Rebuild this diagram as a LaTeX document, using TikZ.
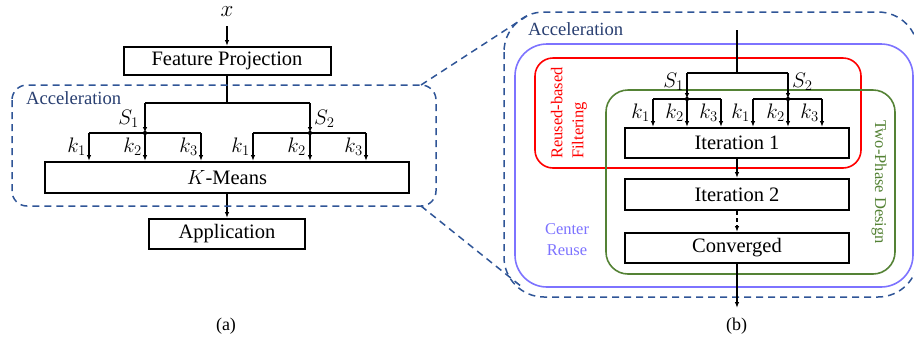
\RequirePackage{fix-cm}
\documentclass[tikz,border=0pt]{standalone}
\usepackage{fontspec}
\setmainfont{Liberation Serif}
\usetikzlibrary{arrows.meta}

\definecolor{accnavy}{RGB}{47,85,151}
\definecolor{acctext}{RGB}{40,62,112}
\definecolor{reuseviolet}{RGB}{125,115,255}
\definecolor{filterred}{RGB}{255,0,0}
\definecolor{phasegreen}{RGB}{84,130,53}

\newcommand{\bxfont}{\fontsize{20.5}{24}\selectfont}
\newcommand{\mfont}{\fontsize{21}{24}\selectfont}
\newcommand{\grpfont}{\fontsize{16.5}{21}\selectfont}
\newcommand{\accfont}{\fontsize{18.6}{22}\selectfont}

\tikzset{
  stagebox/.style={draw, line width=2pt, inner sep=0pt, minimum height=30pt, fill=white, font=\bxfont},
  wire/.style={line width=1.4pt},
  conn/.style={line width=1.4pt, -{Latex[length=6pt,width=4.5pt]}},
  mlbl/.style={inner sep=0pt, font=\mfont},
  accdash/.style={accnavy, line width=1.5pt, dash pattern=on 7pt off 5pt},
  acclbl/.style={inner sep=0pt, text=acctext, font=\accfont},
  grplbl/.style={inner sep=0pt, font=\grpfont},
  grpbox/.style={line width=1.6pt},
  junction/.style={circle, fill=black, inner sep=0pt, minimum size=4pt},
}

\begin{document}
\begin{tikzpicture}[x=1pt,y=-1pt]
\clip (0,0) rectangle (914,341);

% ---------------- (a) pipeline ----------------
\node[stagebox, minimum width=207pt, minimum height=28pt] (fp) at (227,61) {Feature Projection};
\node[stagebox, minimum width=364pt, minimum height=31pt] (km) at (227,177.5) {$K$-Means};
\node[stagebox, minimum width=156pt, minimum height=30pt] (app) at (227,234) {Application};
\node[mlbl, font=\fontsize{23}{26}\selectfont] (xin) at (227,12) {$x$};
\draw[conn, shorten <=9pt] (xin.south) -- (fp.north);

\coordinate (as1) at (145,103);
\coordinate (as2) at (310,103);
\node[junction] (ad1) at (145,133) {};
\node[junction] (ad2) at (310,133) {};
\coordinate (ak1) at (89,133);
\coordinate (ak3) at (201,133);
\coordinate (ak4) at (253,133);
\coordinate (ak6) at (366,133);

\draw[wire] (fp.south) -- (fp.south |- as1);
\draw[wire] (as1) -- (as2);
\draw[conn] (as1) -- (ad1.center);
\draw[conn] (as2) -- (ad2.center);
\draw[wire] (ak1) -- (ak3);
\draw[wire] (ak4) -- (ak6);
\foreach \kx in {89,145,201,253,310,366}
  \draw[conn] (\kx,133) -- (\kx,0 |- km.north);
\node[junction] (ad1b) at (145,133) {};
\node[junction] (ad2b) at (310,133) {};

\node[mlbl, anchor=base east] (as1l) at (139,124) {$S_1$};
\node[mlbl, anchor=base west] (as2l) at (314,124) {$S_2$};
\node[mlbl, anchor=base east] (ak1l) at (86,152) {$k_1$};
\node[mlbl, anchor=base east] (ak2l) at (142,152) {$k_2$};
\node[mlbl, anchor=base east] (ak3l) at (198,152) {$k_3$};
\node[mlbl, anchor=base east] (ak4l) at (250,152) {$k_1$};
\node[mlbl, anchor=base east] (ak5l) at (306,152) {$k_2$};
\node[mlbl, anchor=base east] (ak6l) at (363,152) {$k_3$};

\draw[conn] (km.south) -- (app.north);

\draw[accdash, rounded corners=15pt] (12,85) rectangle (436,206);
\node[acclbl, anchor=base west] (accA) at (26,104) {Acceleration};

\node[inner sep=0pt, font=\fontsize{18}{20}\selectfont] (capA) at (226,326) {(a)};

% ---------------- zoom lines ----------------
\coordinate (zt0) at (421,85);
\coordinate (zt1) at (527,16);
\coordinate (zb0) at (421,206);
\coordinate (zb1) at (522,287);
\draw[accdash] (zt0) -- (zt1);
\draw[accdash] (zb0) -- (zb1);

% ---------------- (b) accelerated iterations ----------------
\draw[accdash, rounded corners=40pt] (504,12) rectangle (918,297);
\node[acclbl, anchor=base west] (accB) at (528,35) {Acceleration};

\draw[grpbox, reuseviolet, rounded corners=32pt] (515,44) rectangle (913,287);
\draw[grpbox, filterred, rounded corners=18pt] (535,58) rectangle (861,168);
\draw[grpbox, phasegreen, rounded corners=22pt] (606,90) rectangle (895,274);

\node[grplbl, text=reuseviolet, align=center] (creuse) at (567,240) {Center\\Reuse};
\node[grplbl, text=filterred, align=left, rotate=90] (rfilter) at (569,113) {Reused-based\\Filtering};
\node[grplbl, text=phasegreen, rotate=-90] (tphase) at (879,182) {Two-Phase Design};

\node[stagebox, minimum width=224pt, minimum height=30pt] (it1) at (737,143) {Iteration 1};
\node[stagebox, minimum width=224pt, minimum height=31pt] (it2) at (737,194.5) {Iteration 2};
\node[stagebox, minimum width=224pt, minimum height=30pt] (conv) at (737,248) {Converged};

\coordinate (btop) at (737,30);
\coordinate (bsplit) at (737,73);
\coordinate (bs1) at (687,73);
\coordinate (bs2) at (788,73);
\node[junction] (bd1) at (687,99) {};
\node[junction] (bd2) at (788,99) {};
\coordinate (bout) at (737,308);

\draw[wire] (btop) -- (bsplit);
\draw[wire] (bs1) -- (bs2);
\draw[conn] (bs1) -- (bd1.center);
\draw[conn] (bs2) -- (bd2.center);
\draw[wire] (653,99) -- (721,99);
\draw[wire] (753,99) -- (822,99);
\foreach \kx in {653,687,721,753,788,822}
  \draw[conn] (\kx,99) -- (\kx,0 |- it1.north);
\node[junction] (bd1b) at (687,99) {};
\node[junction] (bd2b) at (788,99) {};

\node[mlbl, anchor=base east] (bs1l) at (684,87) {$S_1$};
\node[mlbl, anchor=base west] (bs2l) at (792,87) {$S_2$};
\node[mlbl, anchor=base east] (bk1l) at (650,118) {$k_1$};
\node[mlbl, anchor=base east] (bk2l) at (684,118) {$k_2$};
\node[mlbl, anchor=base east] (bk3l) at (718,118) {$k_3$};
\node[mlbl, anchor=base east] (bk4l) at (750,118) {$k_1$};
\node[mlbl, anchor=base east] (bk5l) at (785,118) {$k_2$};
\node[mlbl, anchor=base east] (bk6l) at (819,118) {$k_3$};

\draw[conn] (it1.south) -- (it2.north);
\draw[conn, dash pattern=on 4pt off 3pt] (it2.south) -- (conv.north);
\draw[conn] (conv.south) -- (bout);

\node[inner sep=0pt, font=\fontsize{18}{20}\selectfont] (capB) at (736.5,326) {(b)};
\end{tikzpicture}
\end{document}
